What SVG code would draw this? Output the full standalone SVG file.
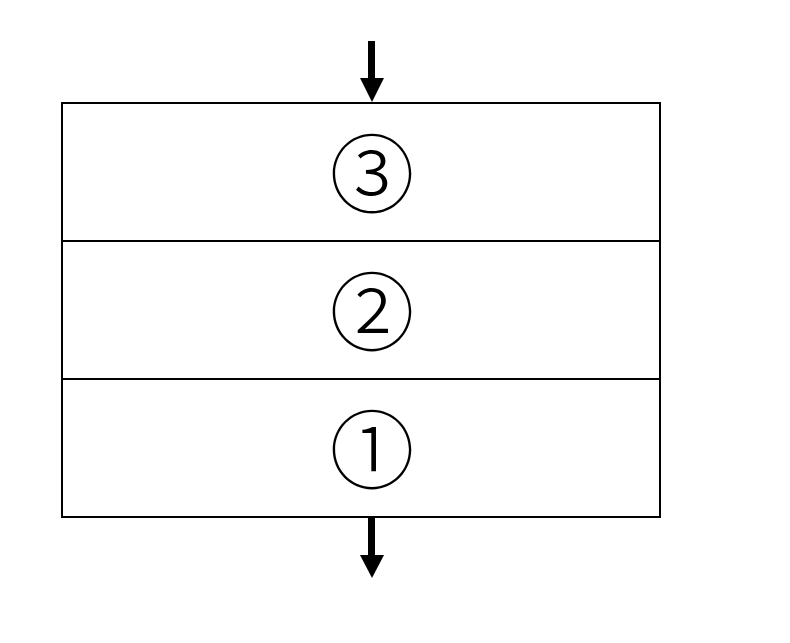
<svg xmlns="http://www.w3.org/2000/svg" width="790" height="643" viewBox="0 0 790 643">
<style>
.box{fill:#fff;stroke:#000;stroke-width:2}
.lbl{font-family:"Noto Sans CJK JP","Noto Sans CJK SC",sans-serif;font-size:85px;font-weight:300;text-anchor:middle;dominant-baseline:central;fill:#000}
.shaft{stroke:#000;stroke-width:7}
</style>
<rect width="790" height="643" fill="#fff"/>
<g id="layer3"><rect class="box" x="62" y="103" width="598" height="138"/><text class="lbl" x="372" y="168.5">③</text></g>
<g id="layer2"><rect class="box" x="62" y="241" width="598" height="138"/><text class="lbl" x="372" y="306.5">②</text></g>
<g id="layer1"><rect class="box" x="62" y="379" width="598" height="138"/><text class="lbl" x="372" y="444.5">①</text></g>
<g id="connectors">
<line class="shaft" x1="371.5" y1="41" x2="371.5" y2="80"/>
<polygon points="360,78 384,78 372,102"/>
<line class="shaft" x1="371.5" y1="518" x2="371.5" y2="557"/>
<polygon points="360,555 384,555 372,578"/>
</g>
</svg>
